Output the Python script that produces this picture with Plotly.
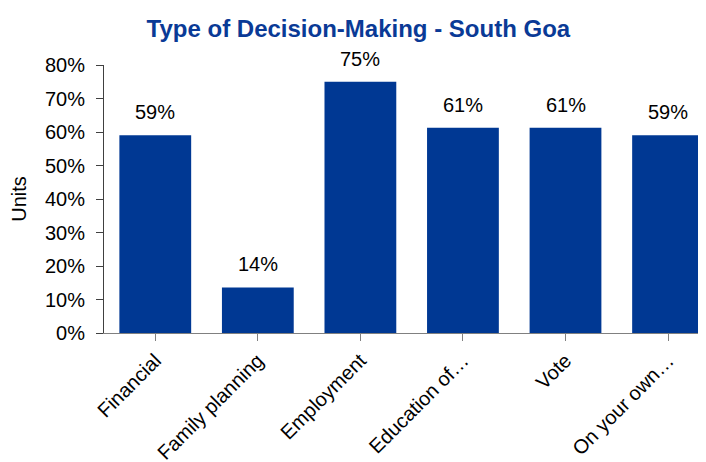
import plotly.graph_objects as go

categories = ["Financial", "Family planning", "Employment",
              "Education of\u2026", "Vote", "On your own\u2026"]
shares = [0.59, 0.136, 0.75, 0.613, 0.613, 0.59]
ytick_vals = [0, 0.1, 0.2, 0.3, 0.4, 0.5, 0.6, 0.7, 0.8]

font_family = "Liberation Sans, Arial, sans-serif"
positions = list(range(len(categories)))

# the page body adds an 8px margin, so the figure is drawn 8px smaller
PAGE_PAD = 8

bar = go.Bar(
    x=positions,
    y=shares,
    marker=dict(color="#003893", line=dict(width=0)),
    hoverinfo="x+y")

# value labels sit well above the bars, as in the original
labels = [
    dict(x=pos, y=val, text="{:.0%}".format(val),
         showarrow=False, yanchor="middle", yshift=23,
         font=dict(size=20, color="#000000"))
    for pos, val in zip(positions, shares)]

layout = go.Layout(
    width=706 - PAGE_PAD,
    height=462 - PAGE_PAD,
    paper_bgcolor="white",
    plot_bgcolor="white",
    font=dict(family=font_family, color="#000000"),
    margin=dict(l=104 - PAGE_PAD, r=0, t=65 - PAGE_PAD, b=129,
                autoexpand=False),
    title=dict(
        text="<b>Type of Decision-Making - South Goa</b>",
        font=dict(size=24, color="#0A3A96"),
        x=0.502, xanchor="center", y=0.955, yanchor="middle"),
    annotations=labels,
    bargap=0.3,
    showlegend=False,
    xaxis=dict(
        range=[-0.5, 5.37],
        tickmode="array",
        tickvals=positions,
        ticktext=categories,
        tickangle=-45,
        tickfont=dict(size=20),
        ticks="outside",
        tickson="boundaries",
        ticklen=7,
        tickcolor="#808080",
        showline=True,
        linecolor="#808080",
        linewidth=1,
        showgrid=False,
        zeroline=False,
        automargin=False),
    yaxis=dict(
        range=[0, 0.8],
        tickvals=ytick_vals,
        tickformat=".0%",
        tickfont=dict(size=20),
        ticks="outside",
        ticklen=7,
        ticklabelstandoff=7,
        tickcolor="#404040",
        showline=True,
        linecolor="#404040",
        linewidth=1,
        showgrid=False,
        zeroline=False,
        automargin=False,
        title=dict(text="Units", font=dict(size=20), standoff=12)))

fig = go.Figure(data=[bar], layout=layout)
fig.write_html("out.html")
